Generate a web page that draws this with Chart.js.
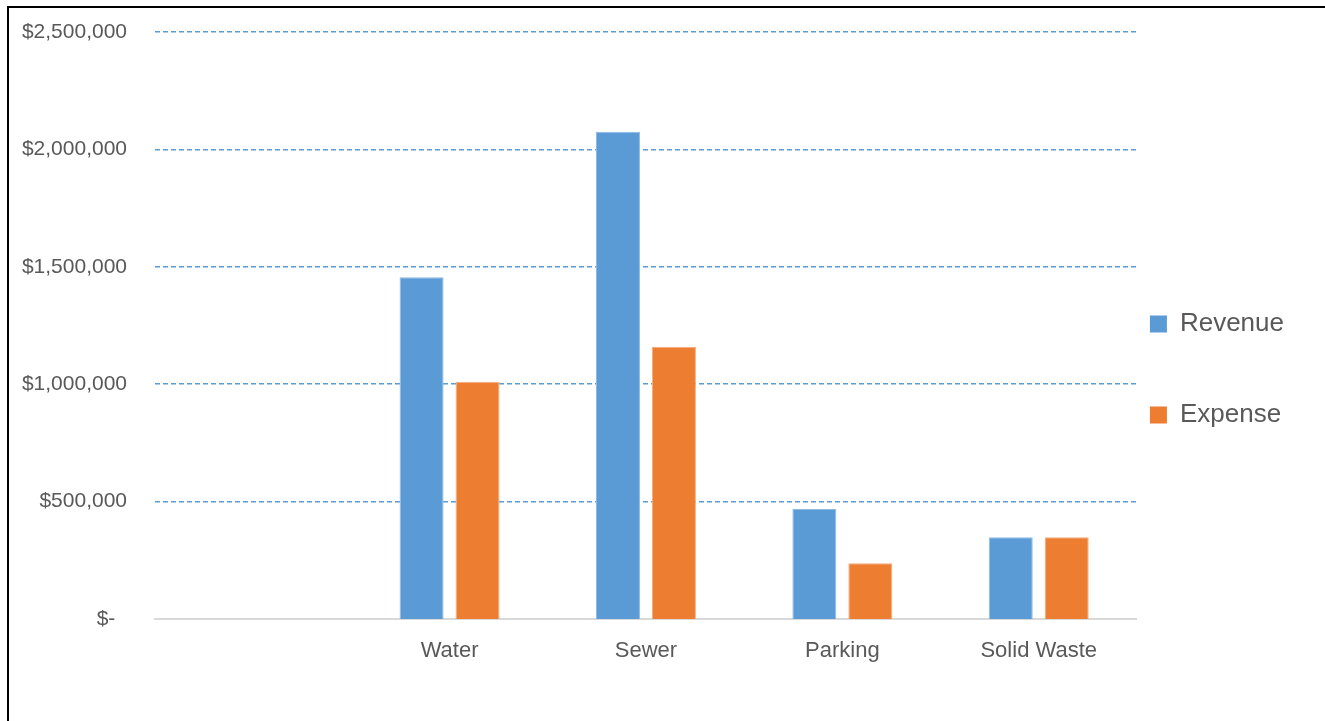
<!DOCTYPE html>
<html>
<head>
<meta charset="utf-8">
<script src="https://cdn.jsdelivr.net/npm/chart.js@4.4.1/dist/chart.umd.min.js"></script>
<style>
  html, body { margin: 0; padding: 0; background: #fff; overflow: hidden; }
  #wrap { position: relative; width: 1325px; height: 721px; }
  #frame {
    position: absolute; left: 7px; top: 6px; width: 1400px; height: 800px;
    border-left: 2px solid #000; border-top: 2px solid #000; pointer-events: none;
  }
</style>
</head>
<body>
<div id="wrap">
  <canvas id="chart"></canvas>
  <div id="frame"></div>
</div>
<script>
// ----------------------------------------
// Revenue vs expense by fund
// ----------------------------------------

// first slot is empty in the original sheet
var categories = ['', 'Water', 'Sewer', 'Parking', 'Solid Waste'];
var revenue = [null, 1455000, 2075000, 468000, 348000];
var expense = [null, 1010000, 1160000, 237000, 348000];
var yMax = 2500000;
var yStep = 500000;

var textColor = '#595959';
var fontName = "'Liberation Sans', Arial, sans-serif";

function moneyLabel(v) {
    if (v === 0) return '$-  ';
    return '$' + v.toLocaleString('en-US');
}

var ctx = document.getElementById('chart').getContext('2d');
var config = {
    type: 'bar',
    data: {
        labels: categories,
        datasets: [{
            label: 'Revenue',
            data: revenue,
            backgroundColor: '#5b9bd5',
            borderColor: '#8dbbe6',
            borderWidth: 1
        }, {
            label: 'Expense',
            data: expense,
            backgroundColor: '#ed7d31',
            borderColor: '#f5ad7c',
            borderWidth: 1
        }]
    },
    options: {
        responsive: true,
        maintainAspectRatio: false,
        animation: false,
        categoryPercentage: 0.57,
        barPercentage: 0.786,
        layout: {
            padding: { top: 0, right: 31, bottom: 0, left: 0 }
        },
        scales: {
            x: {
                grid: { display: false, drawTicks: false },
                border: { display: true, color: '#d9d9d9', width: 2 },
                ticks: {
                    color: textColor,
                    padding: 19,
                    font: { family: fontName, size: 22 }
                },
                afterFit: function (scale) { scale.height = 102; }
            },
            y: {
                min: 0,
                max: yMax,
                ticks: {
                    stepSize: yStep,
                    color: textColor,
                    padding: 28,
                    font: { family: fontName, size: 21 },
                    callback: function (v) { return moneyLabel(v); }
                },
                grid: {
                    drawTicks: false,
                    color: '#5b9bd5',
                    lineWidth: function (c) {
                        return c.tick && c.tick.value === 0 ? 0 : 1.5;
                    }
                },
                border: { display: false, dash: [5, 3] },
                afterFit: function (scale) {
                    scale.width = 155;
                    // plot top sits at y = 32
                    scale.paddingTop = 32;
                }
            }
        },
        plugins: {
            tooltip: { enabled: false },
            legend: {
                position: 'right',
                align: 'start',
                title: {
                    display: true,
                    text: '',
                    font: { size: 10, lineHeight: 1 },
                    padding: { top: 288, bottom: 0 }
                },
                labels: {
                    boxWidth: 17,
                    boxHeight: 17,
                    padding: 13,
                    color: textColor,
                    font: { family: fontName, size: 26, lineHeight: 3 },
                    generateLabels: function (chart) {
                        var items = Chart.defaults.plugins.legend.labels.generateLabels(chart);
                        items.forEach(function (it) {
                            it.text = [it.text];
                            it.lineWidth = 0;
                        });
                        return items;
                    }
                }
            }
        }
    }
};
var chart = new Chart(ctx, config);
</script>
</body>
</html>
